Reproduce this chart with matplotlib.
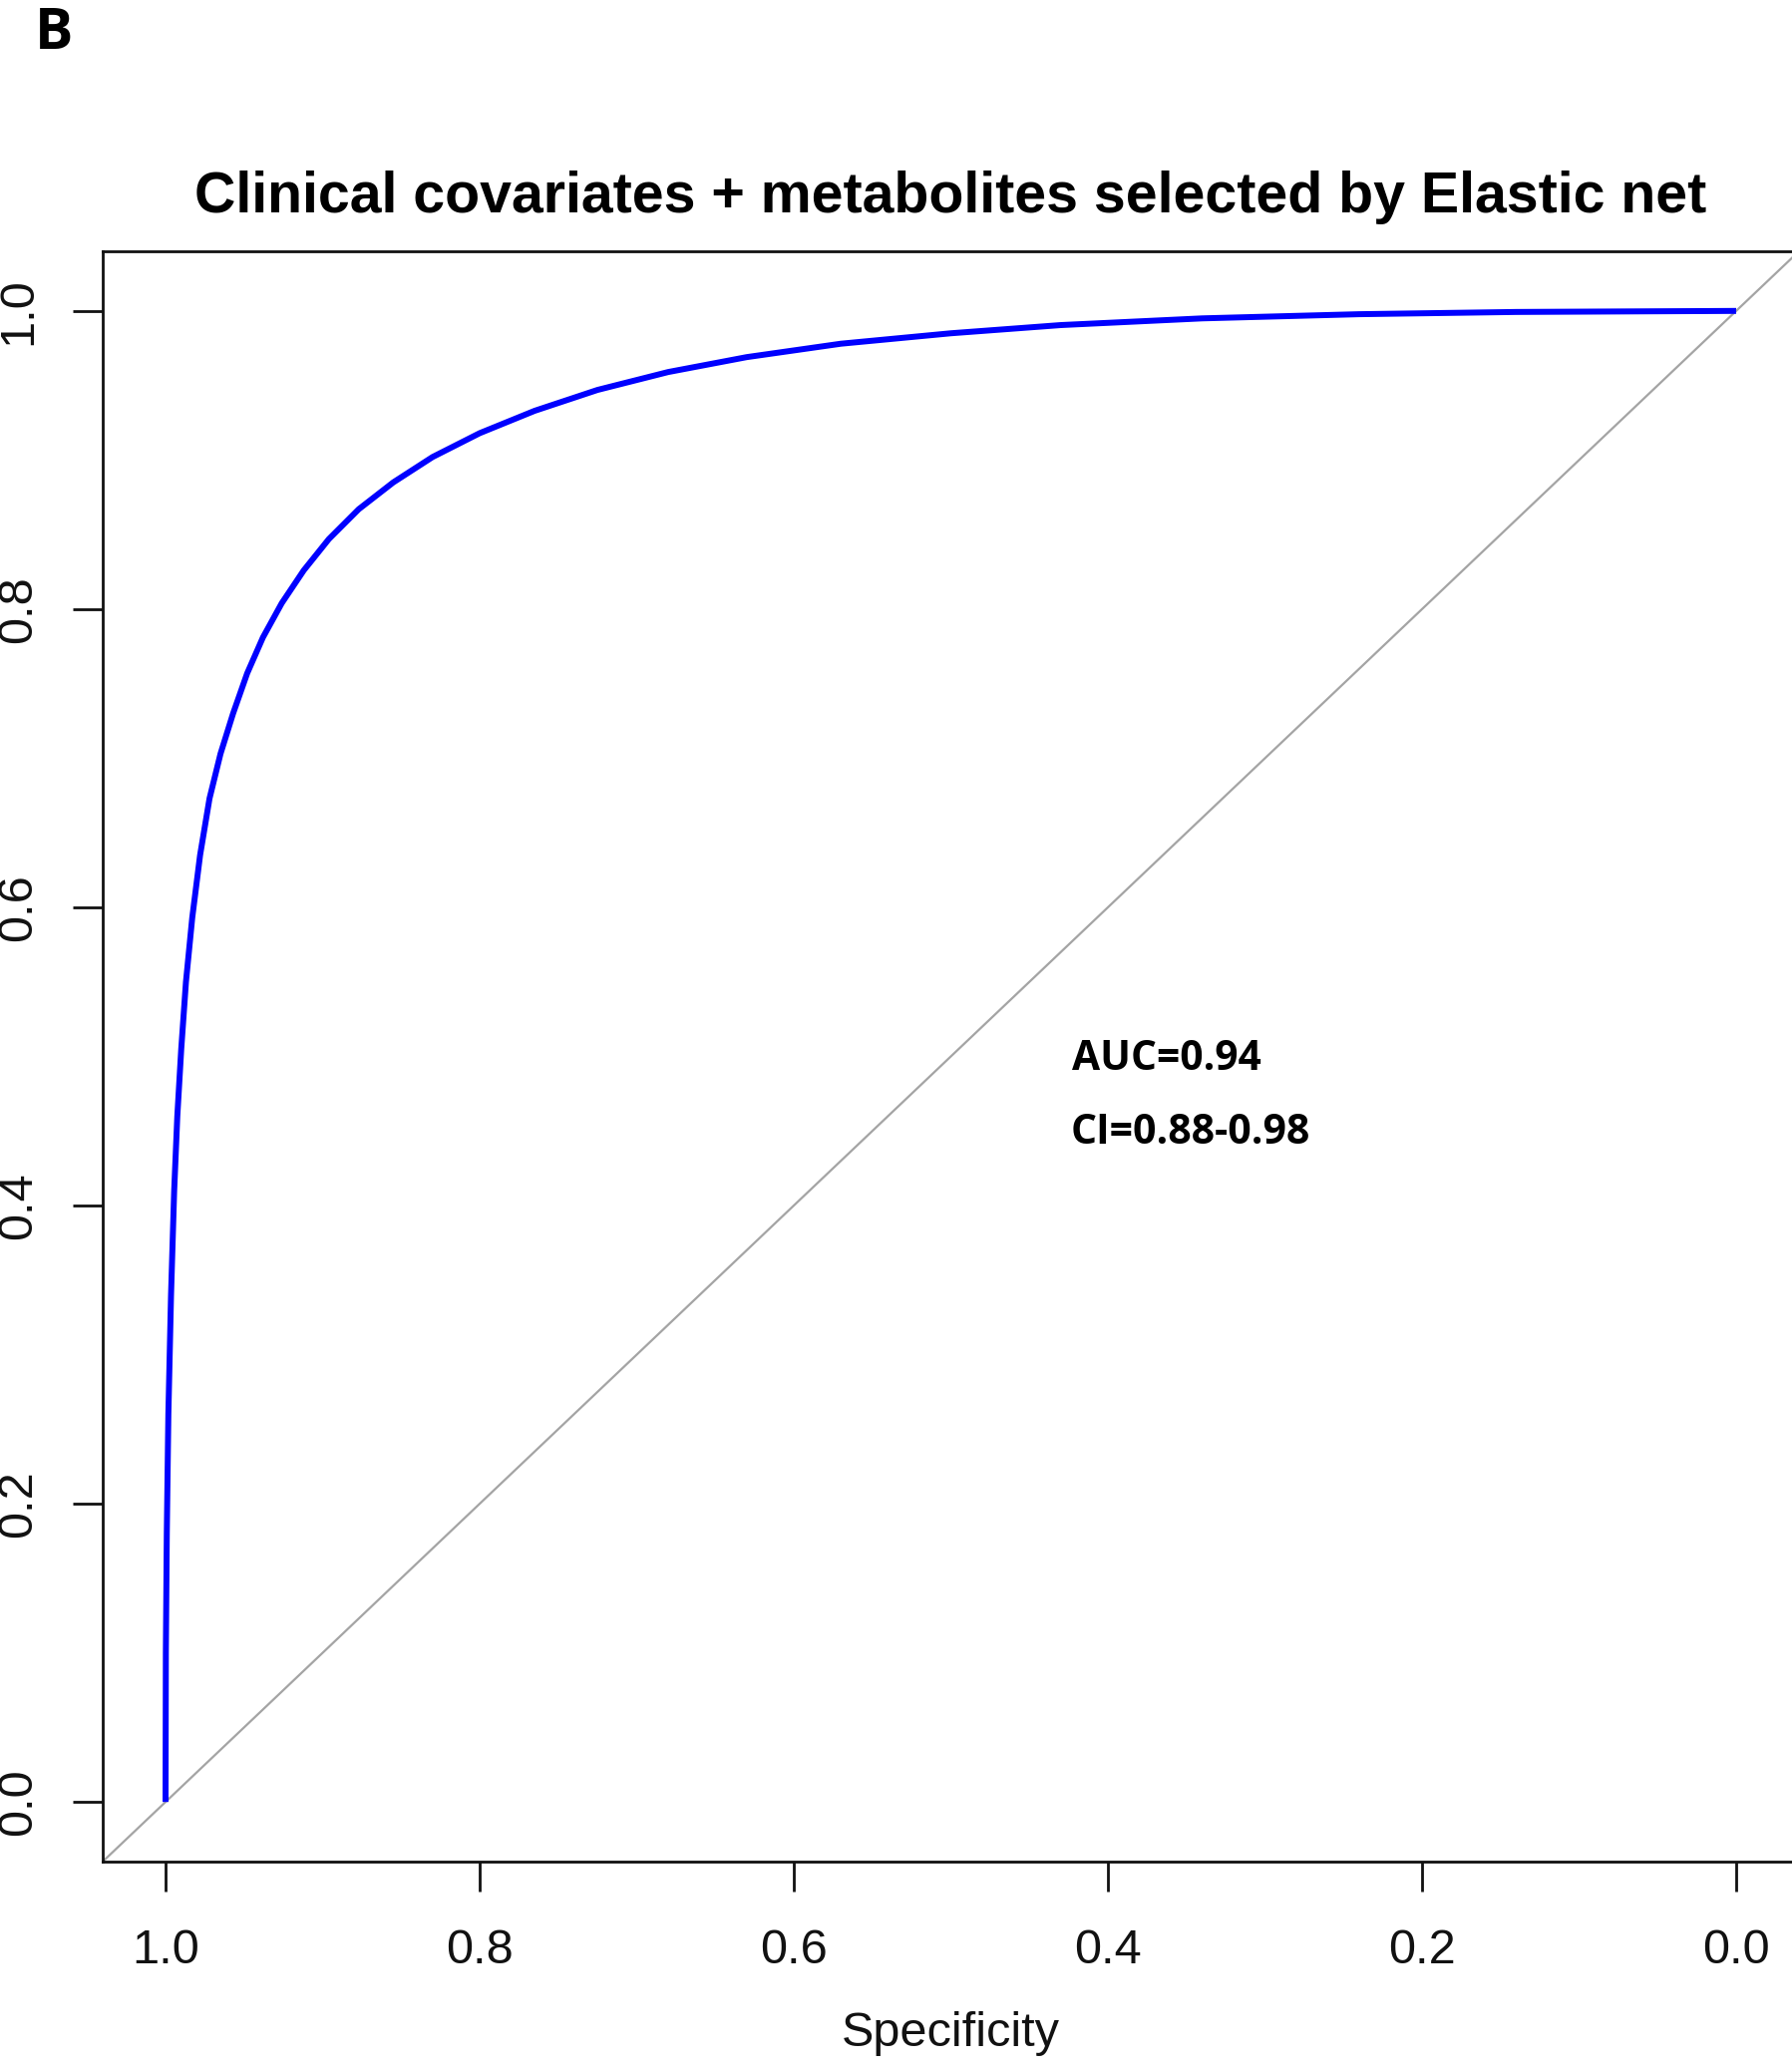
import matplotlib
matplotlib.use("Agg")
import matplotlib.pyplot as plt

# ROC curve values (specificity, sensitivity)
specificity = [1.0000, 0.9998, 0.9992, 0.9982, 0.9965, 0.9945, 0.9925, 0.9900,
               0.9870, 0.9830, 0.9780, 0.9720, 0.9650, 0.9570, 0.9480, 0.9380,
               0.9260, 0.9120, 0.8960, 0.8770, 0.8550, 0.8300, 0.8000, 0.7650,
               0.7250, 0.6800, 0.6300, 0.5700, 0.5000, 0.4300, 0.3400, 0.2400,
               0.1400, 0.0000]
sensitivity = [0.000, 0.100, 0.180, 0.260, 0.340, 0.410, 0.460, 0.505,
               0.550, 0.593, 0.635, 0.673, 0.703, 0.730, 0.757, 0.781,
               0.804, 0.826, 0.847, 0.867, 0.885, 0.902, 0.918, 0.933,
               0.947, 0.959, 0.969, 0.978, 0.985, 0.9905, 0.9950, 0.9978,
               0.9993, 1.0000]
ticks = [1.0, 0.8, 0.6, 0.4, 0.2, 0.0]
tick_labels = ["1.0", "0.8", "0.6", "0.4", "0.2", "0.0"]
title = "Clinical covariates + metabolites selected by Elastic net"
auc_text = "AUC=0.94"
ci_text = "CI=0.88-0.98"

W, H = 1797, 2076
fig = plt.figure(figsize=(W / 100, H / 100), dpi=100)
ax = fig.add_axes([103 / W, 1 - 1867 / H, (1804 - 103) / W, (1867 - 252) / H])

ax.axline((1, 0), (0, 1), color="#a4a4a4", lw=1.6, zorder=1)
ax.plot(specificity, sensitivity, color="#0000ff", lw=4.3, zorder=2,
        solid_capstyle="butt", solid_joinstyle="round")

ax.set_xlim(1.04, -0.04)
ax.set_ylim(-0.04, 1.04)
ax.set_xticks(ticks)
ax.set_xticklabels(tick_labels)
ax.set_yticks(ticks)
ax.set_yticklabels(tick_labels, rotation=90, va="center")

for s in ax.spines.values():
    s.set_linewidth(2.0)
    s.set_color("#111111")

tick_font = "Liberation Sans"
ax.tick_params(axis="both", direction="out", length=21.5, width=2.0,
               color="#111111", labelsize=35, labelcolor="#111111")
ax.tick_params(axis="x", pad=27)
ax.tick_params(axis="y", pad=23)
for lab in ax.get_xticklabels() + ax.get_yticklabels():
    lab.set_fontfamily(tick_font)

ax.set_xlabel("Specificity", fontsize=35, family=tick_font, color="#111111",
              labelpad=27)

fig.text(953 / W, 1 - 213 / H, title, ha="center", va="baseline",
         fontsize=41.2, fontweight="bold", family="Liberation Sans")

ax.text(0.4227, 0.4907, auc_text, ha="left", va="baseline", fontsize=29.3,
        fontweight="bold", family="Open Sans")
ax.text(0.4240, 0.4412, ci_text, ha="left", va="baseline", fontsize=29.5,
        fontweight="bold", family="Open Sans")

fig.text(35 / W, 1 - 49 / H, "B", ha="left", va="baseline", fontsize=41,
         fontweight="bold", family="Open Sans")

fig.savefig("out.png", dpi=100)
